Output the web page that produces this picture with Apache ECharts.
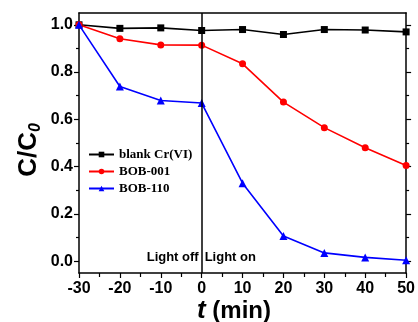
<!DOCTYPE html>
<html><head><meta charset="utf-8">
<script src="https://cdn.jsdelivr.net/npm/echarts@6/dist/echarts.min.js"></script>
<style>html,body{margin:0;padding:0;background:#fff}#c{width:418px;height:322px}</style>
</head><body><div id="c"></div>
<script>
const times = [-30, -20, -10, 0, 10, 20, 30, 40, 50];
const blankCr = [1.0, 0.985, 0.987, 0.976, 0.98, 0.959, 0.98, 0.978, 0.97];
const bob001 = [1.0, 0.941, 0.915, 0.914, 0.835, 0.673, 0.565, 0.48, 0.405];
const bob110 = [1.0, 0.739, 0.68, 0.669, 0.33, 0.107, 0.035, 0.016, 0.004];
const seriesNames = ['blank Cr(VI)', 'BOB-001', 'BOB-110'];
const yTicks = [0, 0.2, 0.4, 0.6, 0.8, 1.0];
const yMinorTicks = [0.1, 0.3, 0.5, 0.7, 0.9];
const xTicks = [-30, -20, -10, 0, 10, 20, 30, 40, 50];

const chart = echarts.init(document.getElementById('c'));
const pair = a => times.map((t, i) => [t, a[i]]);
const axisFont = {fontFamily: 'Liberation Sans', fontWeight: 'bold', fontSize: 16, color: '#000'};
function mkSeries(name, data, color, symbol, size) {
  return {name, type: 'line', data: pair(data), symbol, symbolSize: size,
    lineStyle: {color, width: 1.6}, itemStyle: {color}, animation: false};
}
const series = [
  mkSeries(seriesNames[0], blankCr, '#000', 'rect', 7),
  mkSeries(seriesNames[1], bob001, '#ff0000', 'circle', 7),
  mkSeries(seriesNames[2], bob110, '#0000ff', 'triangle', 8)
];
series[0].markLine = {silent: true, symbol: 'none', label: {show: false},
  lineStyle: {color: '#000', type: 'solid', width: 1.5}, data: [{xAxis: 0}]};
const xAx = (pos, show) => ({type: 'value', min: -30, max: 50, interval: 10, position: pos,
  axisLine: {show: true, onZero: false, lineStyle: {color: '#000', width: 1.5}},
  axisTick: {show: show, length: 5, lineStyle: {color: '#000', width: 1.2}},
  minorTick: {show: show, splitNumber: 2, length: 4, lineStyle: {color: '#000', width: 1.2}},
  axisLabel: {show: pos === 'bottom', ...axisFont, margin: 8, customValues: xTicks},
  splitLine: {show: false}});
const yAx = (pos, label) => ({type: 'value', min: -0.05, max: 1.05, position: pos,
  axisLine: {show: true, onZero: false, lineStyle: {color: '#000', width: 1.5}},
  axisTick: {show: true, length: 5, customValues: yTicks, lineStyle: {color: '#000', width: 1.2}},
  minorTick: {show: false},
  axisLabel: {show: label, ...axisFont, margin: 6, customValues: yTicks,
    formatter: v => v.toFixed(1)},
  splitLine: {show: false}});
const yMinor = (pos) => ({type: 'value', min: -0.05, max: 1.05, position: pos,
  axisLine: {show: false, onZero: false}, axisLabel: {show: false}, splitLine: {show: false},
  axisTick: {show: true, length: 3, customValues: yMinorTicks, lineStyle: {color: '#000', width: 1.2}}});
chart.setOption({
  animation: false,
  grid: {left: 79, right: 5, top: 13, bottom: 49},
  xAxis: [xAx('bottom', true), {...xAx('top', false), axisTick: {show: false}, minorTick: {show: false}}],
  yAxis: [yAx('left', true), yAx('right', false), yMinor('left'), yMinor('right')],
  legend: {orient: 'vertical', left: 88, top: 148, padding: 0, itemWidth: 25, itemHeight: 7, itemGap: 4,
    data: seriesNames, textStyle: {fontFamily: 'Liberation Serif', fontWeight: 'bold', fontSize: 13, color: '#000'}},
  series
});
const p0 = chart.convertToPixel({xAxisIndex: 0, yAxisIndex: 0}, [0, 0]);
chart.setOption({graphic: [
  {type: 'text', x: p0[0] - 3, y: 257, style: {text: 'Light off', align: 'right', verticalAlign: 'middle', font: 'bold 13px "Liberation Sans"', fill: '#000'}},
  {type: 'text', x: p0[0] + 3, y: 257, style: {text: 'Light on', align: 'left', verticalAlign: 'middle', font: 'bold 13px "Liberation Sans"', fill: '#000'}},
  {type: 'text', x: 29, y: 150, rotation: Math.PI / 2, style: {
    text: '{a|C/C}{s|0}', align: 'center', verticalAlign: 'middle',
    rich: {a: {font: 'bold 26px "Liberation Sans"', fill: '#000'},
           s: {font: 'bold italic 16px "Liberation Sans"', fill: '#000', verticalAlign: 'bottom', padding: [13, 0, 0, 0]}}}},
  {type: 'text', x: 234, y: 311, style: {
    text: '{t|t}{m| (min)}', align: 'center', verticalAlign: 'middle',
    rich: {t: {font: 'bold italic 26px "Liberation Sans"', fill: '#000'},
           m: {font: 'bold 24px "Liberation Sans"', fill: '#000'}}}}
]});
</script></body></html>
